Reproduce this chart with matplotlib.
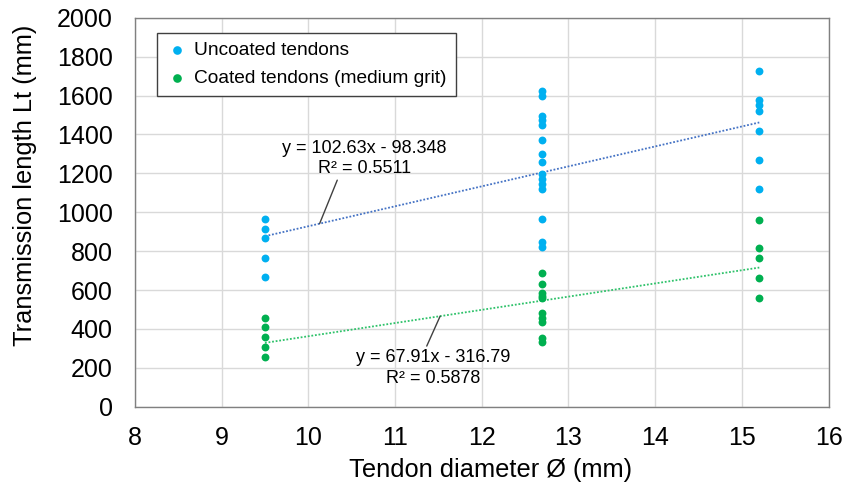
import matplotlib
matplotlib.use("Agg")
import matplotlib.pyplot as plt
import numpy as np

plt.rcParams['font.family'] = ['Liberation Sans', 'DejaVu Sans']

# Data
unc_x = [9.5]*5 + [12.7]*15 + [15.2]*7
unc_y = [965, 915, 865, 765, 665,
         1625, 1600, 1497, 1472, 1448, 1369, 1300, 1257, 1195, 1170, 1145, 1120, 966, 846, 820,
         1725, 1578, 1549, 1519, 1420, 1271, 1120]
coat_x = [9.5]*5 + [12.7]*10 + [15.2]*5
coat_y = [457, 409, 358, 308, 258,
          688, 632, 585, 570, 560, 481, 458, 435, 355, 335,
          962, 815, 763, 661, 558]
unc_fit = [102.63, -98.348]
coat_fit = [67.91, -316.79]
unc_label = "y = 102.63x - 98.348\nR² = 0.5511"
coat_label = "y = 67.91x - 316.79\nR² = 0.5878"
xticks = [8, 9, 10, 11, 12, 13, 14, 15, 16]
yticks = list(range(0, 2001, 200))

blue = '#00B0F0'
green = '#00B050'

fig = plt.figure(figsize=(8.43, 4.88), dpi=100)
ax = fig.add_axes([0.160, 0.1666, 0.823, 0.797])

ax.scatter(unc_x, unc_y, s=32, color=blue, zorder=3, label='Uncoated tendons', linewidths=0)
ax.scatter(coat_x, coat_y, s=32, color=green, zorder=3, label='Coated tendons (medium grit)', linewidths=0)

xl = np.array([min(unc_x), max(unc_x)])
ax.plot(xl, unc_fit[0]*xl + unc_fit[1], ls=(0, (1, 1)), color='#4472C4', lw=1.3, zorder=2)
xl2 = np.array([min(coat_x), max(coat_x)])
ax.plot(xl2, coat_fit[0]*xl2 + coat_fit[1], ls=(0, (1, 1)), color='#2EC26A', lw=1.3, zorder=2)

ax.set_xlim(8, 16)
ax.set_ylim(0, 2000)
ax.set_xticks(xticks)
ax.set_yticks(yticks)
ax.tick_params(axis='both', length=0, labelsize=18, colors='black')
ax.tick_params(axis='y', pad=16)
ax.tick_params(axis='x', pad=14)
ax.grid(True, color='#D9D9D9', lw=1)
ax.set_axisbelow(True)
for s in ax.spines.values():
    s.set_color('#808080')
    s.set_linewidth(1)

ax.set_xlabel('Tendon diameter Ø (mm)', fontsize=18.3, va='center')
ax.set_ylabel('Transmission length Lt (mm)', fontsize=18.3, va='center')
ax.xaxis.set_label_coords(0.513, -0.163)
ax.yaxis.set_label_coords(-0.158, 0.57)

# annotations
ax.annotate(unc_label, xy=(10.13, unc_fit[0]*10.13 + unc_fit[1]), xytext=(10.65, 1275),
            ha='center', va='center', fontsize=13, multialignment='center', linespacing=1.25,
            arrowprops=dict(arrowstyle='-', color='#404040', lw=1, shrinkA=0, shrinkB=0,
                            relpos=(0.34, 0.0)))
ax.annotate(coat_label, xy=(11.52, coat_fit[0]*11.52 + coat_fit[1]), xytext=(11.44, 200),
            ha='center', va='center', fontsize=13, multialignment='center', linespacing=1.3,
            arrowprops=dict(arrowstyle='-', color='#404040', lw=1, shrinkA=0, shrinkB=0,
                            relpos=(0.45, 1.0)))

leg = ax.legend(loc='upper left', bbox_to_anchor=(0.032, 0.961), borderaxespad=0,
                fontsize=13.8, frameon=True,
                fancybox=False, edgecolor='#404040', framealpha=1, handletextpad=0.3,
                borderpad=0.45, labelspacing=0.55, handlelength=1.2, markerscale=1.1)
leg.get_frame().set_linewidth(1)

fig.savefig('out.png', dpi=100, facecolor='white')
